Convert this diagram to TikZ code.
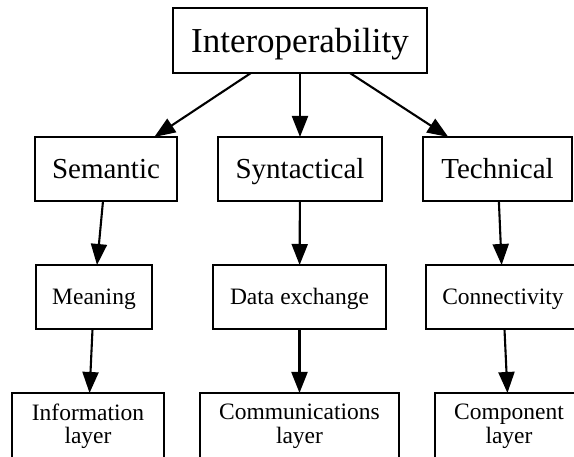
\documentclass[tikz,border=0pt]{standalone}
\usepackage{fontspec}
\setmainfont{Liberation Serif}
\usetikzlibrary{arrows.meta}
\begin{document}
\begin{tikzpicture}[x=1pt,y=-1pt,
  box/.style={draw, line width=2.1pt, rectangle, inner sep=0pt, outer sep=0pt},
  big/.style={box, font=\fontsize{35}{42}\selectfont, text height=26pt, text depth=2.8pt},
  mid/.style={box, font=\fontsize{29}{35}\selectfont, text height=21pt, text depth=1.8pt},
  small/.style={box, font=\fontsize{23.5}{28}\selectfont, text height=17pt, text depth=1.4pt},
  layerbox/.style={box, align=center, font=\fontsize{23.5}{23.6}\selectfont},
  link/.style={line width=2.1pt, -{Triangle[length=21pt,width=16pt]}}]
  \useasboundingbox (0,0) rectangle (574,457);
  \clip (0,0) rectangle (574,457);

  % root
  \node[big, minimum width=254pt, minimum height=65pt] (interop) at (300,40.5) {Interoperability};

  % three kinds of interoperability
  \node[mid, minimum width=142pt, minimum height=64pt] (semantic) at (106,169) {Semantic};
  \node[mid, minimum width=164pt, minimum height=64pt] (syntactical) at (300,169) {Syntactical};
  \node[mid, minimum width=149pt, minimum height=64pt] (technical) at (497.5,169) {Technical};

  % what each one is about
  \node[small, minimum width=116pt, minimum height=64pt] (meaning) at (94,297) {Meaning};
  \node[small, minimum width=173pt, minimum height=64pt] (dataex) at (299.5,297) {Data exchange};
  \node[small, minimum width=154pt, minimum height=64pt] (connectivity) at (503,297) {Connectivity};

  % layers
  \node[layerbox, minimum width=152pt, minimum height=66.6pt] (info) at (88,426.3) {Information\\layer};
  \node[layerbox, minimum width=199pt, minimum height=66.6pt] (comm) at (299.5,426.3) {Communications\\layer};
  \node[layerbox, minimum width=148pt, minimum height=66.6pt] (component) at (509,426.3) {Component\\layer};

  \draw[link] (interop) -- (semantic);
  \draw[link] (interop) -- (syntactical);
  \draw[link] (interop) -- (technical);
  \draw[link] (semantic) -- (meaning);
  \draw[link] (syntactical) -- (dataex);
  \draw[link] (technical) -- (connectivity);
  \draw[link] (meaning) -- (info);
  \draw[link] (dataex) -- (comm);
  \draw[link] (connectivity) -- (component);
\end{tikzpicture}
\end{document}
